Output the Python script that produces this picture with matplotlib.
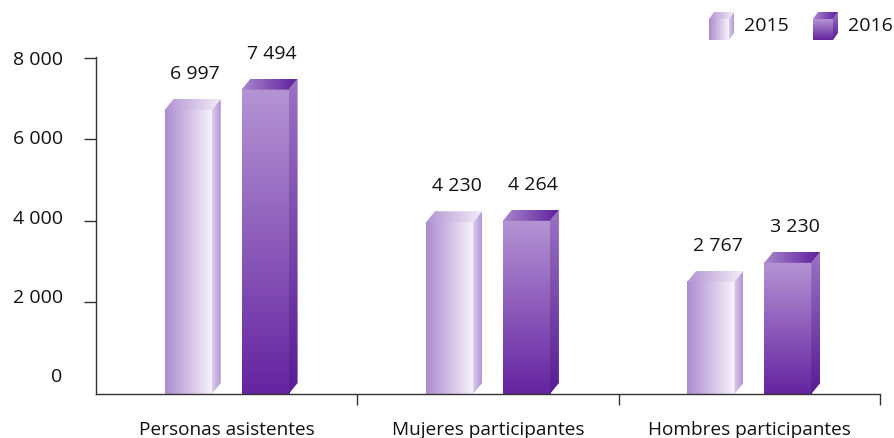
import numpy as np
import matplotlib
matplotlib.use("Agg")
import matplotlib.pyplot as plt
from matplotlib.colors import LinearSegmentedColormap
from matplotlib.patches import Polygon

plt.rcParams['font.family'] = ['Open Sans', 'DejaVu Sans']

categories = ["Personas asistentes", "Mujeres participantes", "Hombres participantes"]
years = ["2015", "2016"]
v2015 = [6997, 4230, 2767]
v2016 = [7494, 4264, 3230]
yticks = [0, 2000, 4000, 6000, 8000]

# gradient styles per series: (front, side, top) -> (colors, direction)
styles = {
    "2015": {"front": (["#ab8bce", "#f9f5fc"], "h"),
             "side": (["#dccdec", "#b396d4"], "h"),
             "top": (["#b394d3", "#f4eef9"], "h")},
    "2016": {"front": (["#b494d3", "#6424a0"], "v"),
             "side": (["#9a74c3", "#581c93"], "v"),
             "top": (["#a886cd", "#5c1c9b"], "h")},
}


def grad_img(ax, colors, direction, extent, clip=None, z=2):
    cmap = LinearSegmentedColormap.from_list("g", colors)
    g = np.linspace(0, 1, 256)
    arr = g.reshape(1, -1) if direction == "h" else g.reshape(-1, 1)
    im = ax.imshow(arr, cmap=cmap, extent=extent, origin="upper", aspect="auto",
                   interpolation="bicubic", zorder=z)
    if clip is not None:
        ax.add_patch(clip)
        im.set_clip_path(clip)
    return im


def draw_cube(ax, x0, x1, y0, y1, dx, dy, st, z=2):
    grad_img(ax, *st["front"], extent=[x0, x1, y0, y1], z=z)
    side = Polygon([(x1, y0), (x1 + dx, y0 + dy), (x1 + dx, y1 + dy), (x1, y1)],
                   closed=True, facecolor="none", edgecolor="none")
    grad_img(ax, *st["side"], extent=[x1, x1 + dx, y0, y1 + dy], clip=side, z=z)
    top = Polygon([(x0, y1), (x1, y1), (x1 + dx, y1 + dy), (x0 + dx, y1 + dy)],
                  closed=True, facecolor="none", edgecolor="none")
    grad_img(ax, *st["top"], extent=[x0, x1 + dx, y1, y1 + dy], clip=top, z=z)


fig = plt.figure(figsize=(8.95, 4.39), dpi=100)
ax = fig.add_axes([96 / 895, 44 / 439, (880 - 96) / 895, (395 - 58) / 439])
ax.set_xlim(-0.5, 2.5)
ax.set_ylim(0, 8270)

width = 0.18
offset = 0.147
depth_x = 0.0344
depth_y = 270

for vals, yr, sign in [(v2015, "2015", -1), (v2016, "2016", 1)]:
    for i, v in enumerate(vals):
        xc = i + sign * offset
        draw_cube(ax, xc - width / 2, xc + width / 2, 0, v, depth_x, depth_y, styles[yr])
        ax.annotate(f"{v:,}".replace(",", " "), (xc, v), xytext=(5, 20),
                    textcoords="offset points", ha="center", va="bottom",
                    fontsize=14, color="#111111")

# axes styling
for s in ["top", "right"]:
    ax.spines[s].set_visible(False)
for s in ["left", "bottom"]:
    ax.spines[s].set_color("#333333")
    ax.spines[s].set_linewidth(1.0)

# tick marks (shifted by 3D depth), labels placed separately
ax.set_yticks([t + depth_y for t in yticks[1:]], minor=True)
ax.tick_params(axis="y", which="minor", length=9, width=1, color="#333333", direction="out")
ax.set_yticks([t * 0.976 + 490 for t in yticks])
ax.set_yticklabels([f"{t:,}".replace(",", " ") for t in yticks])
ax.tick_params(axis="y", which="major", length=0, pad=24, labelsize=14, labelcolor="#111111")

ax.set_xticks([0.5, 1.5, 2.5], minor=True)
ax.tick_params(axis="x", which="minor", length=8, width=1, color="#333333", direction="out")
ax.set_xticks([0, 1, 2])
ax.set_xticklabels(categories)
ax.tick_params(axis="x", which="major", length=0, pad=19, labelsize=13.7, labelcolor="#111111")

# legend drawn in pixel coordinates
lax = fig.add_axes([0, 0, 1, 1])
lax.set_xlim(0, 895)
lax.set_ylim(0, 439)
lax.axis("off")
for yr, lx in zip(years, [709, 813]):
    draw_cube(lax, lx, lx + 20, 439 - 41, 439 - 20, 5, 7, styles[yr])
    lax.text(lx + 35, 439 - 26, yr, fontsize=14, color="#111111", va="center", ha="left")

fig.savefig("out.png", dpi=100)
